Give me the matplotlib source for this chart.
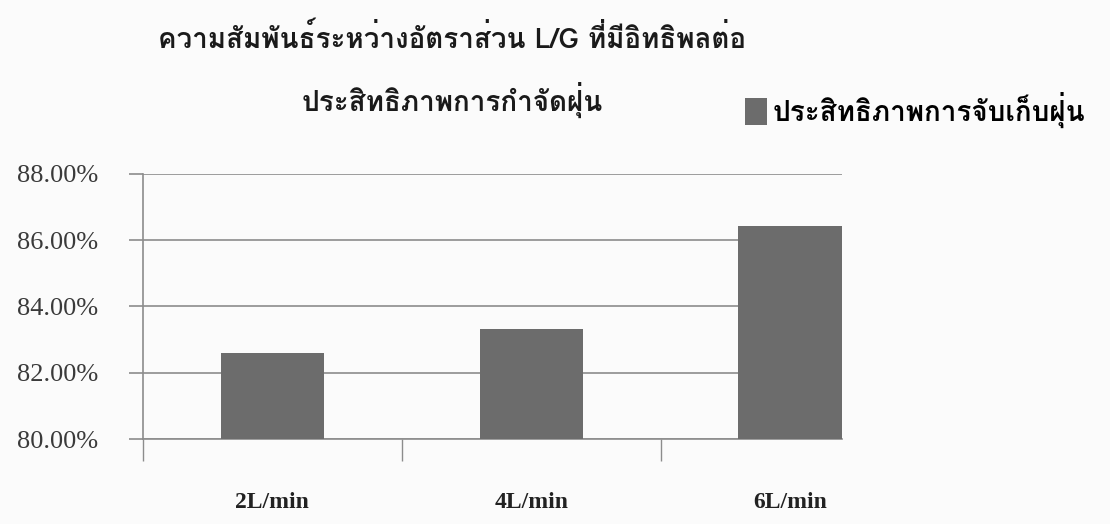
import matplotlib
matplotlib.use("Agg")
import matplotlib.pyplot as plt
from matplotlib import font_manager
from matplotlib.ft2font import FT2Font

categories = ["2L/min", "4L/min", "6L/min"]
efficiency = [82.60, 83.32, 86.42]
y_ticks = [80, 82, 84, 86, 88]
title_text = "ความสัมพันธ์ระหว่างอัตราส่วน L/G ที่มีอิทธิพลต่อ\nประสิทธิภาพการกำจัดฝุ่น"
legend_text = "ประสิทธิภาพการจับเก็บฝุ่น"


def thai_families():
    """Find installed families that actually contain Thai glyphs."""
    found = []
    for f in font_manager.fontManager.ttflist:
        try:
            ft = FT2Font(f.fname)
            if ft.get_char_index(ord("ก")) and f.name not in found:
                found.append(f.name)
        except Exception:
            pass
    return found


thai_family = thai_families() + ["DejaVu Sans"]

BAR = "#6c6c6c"
GRID = "#8c8c8c"

fig = plt.figure(figsize=(11.1, 5.24), dpi=100, facecolor="#fbfbfb")
ax = fig.add_axes([0.1288, 0.1622, 0.6298, 0.5058])
ax.set_facecolor("#fbfbfb")

x = list(range(len(categories)))
bars = ax.bar(x, efficiency, width=0.40, color=BAR, zorder=3,
              label=legend_text)

ax.set_ylim(80, 88)
ax.set_xlim(-0.5, 2.2)
ax.set_yticks(y_ticks)
ax.set_yticklabels([f"{v:.2f}%" for v in y_ticks],
                   fontfamily="Liberation Serif", fontsize=19, color="#3a3a3a")
ax.yaxis.grid(True, color=GRID, lw=1.2, zorder=0)
ax.tick_params(axis="y", length=10, width=1.2, color=GRID, pad=22)

# category boundaries carry the tick marks, labels sit well below
ax.set_xticks([-0.5, 0.5, 1.5])
ax.set_xticklabels([])
ax.tick_params(axis="x", length=16, width=1.0, color=GRID)
ax.set_xticks(x, minor=True)
ax.set_xticklabels(categories, minor=True, fontfamily="Liberation Serif",
                   fontweight="bold", fontsize=17, color="#222222")
ax.tick_params(axis="x", which="minor", length=0, pad=38)

for side in ["top", "right"]:
    ax.spines[side].set_visible(False)
ax.spines["left"].set_color(GRID)
ax.spines["left"].set_linewidth(1.2)
ax.spines["bottom"].set_color(GRID)
ax.spines["bottom"].set_linewidth(1.2)

fig.text(0.407, 0.958, title_text, ha="center", va="top", fontsize=20,
         fontweight="bold", family=thai_family, linespacing=2.0,
         color="#1a1a1a")

fig.legend(handles=[bars], labels=[legend_text], loc="center left",
           bbox_to_anchor=(0.671, 0.79), frameon=False, handlelength=0.8,
           handleheight=1.1, handletextpad=0.2, borderpad=0, borderaxespad=0,
           prop={"family": thai_family, "size": 20, "weight": "bold"})

fig.savefig("out.png", dpi=100, facecolor=fig.get_facecolor())
